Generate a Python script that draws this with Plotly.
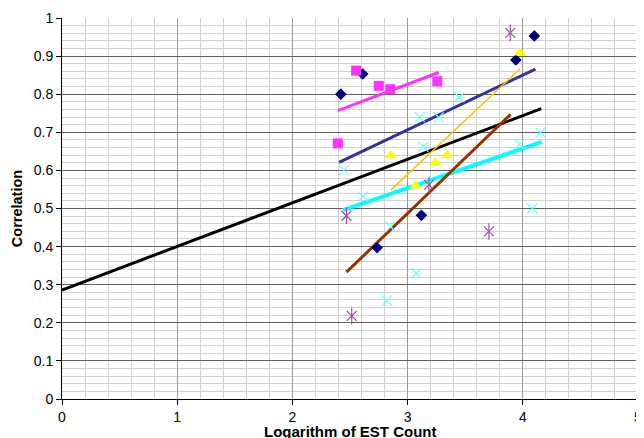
import plotly.graph_objects as go

# Scatter series (log EST count vs correlation)
navy_x = [2.42, 2.61, 2.735, 3.12, 3.94, 4.10]
navy_y = [0.800, 0.853, 0.397, 0.482, 0.890, 0.953]

pink_x = [2.394, 2.553, 2.75, 2.85, 3.258]
pink_y = [0.671, 0.862, 0.822, 0.813, 0.834]

yellow_x = [2.853, 3.07, 3.24, 3.342, 3.975]
yellow_y = [0.639, 0.560, 0.620, 0.640, 0.909]

cyan_x = [2.446, 2.613, 2.853, 2.82, 3.076, 3.105, 3.137, 3.27, 3.449, 3.972, 4.082, 4.154]
cyan_y = [0.600, 0.531, 0.452, 0.258, 0.330, 0.740, 0.662, 0.739, 0.792, 0.669, 0.500, 0.700]

purple_x = [2.469, 2.515, 3.186, 3.706, 3.891]
purple_y = [0.481, 0.218, 0.562, 0.440, 0.961]

# Trend lines (endpoints)
navy_line_x = [2.405, 4.11]
navy_line_y = [0.621, 0.866]
pink_line_x = [2.394, 3.27]
pink_line_y = [0.757, 0.857]
orange_line_x = [2.856, 3.975]
orange_line_y = [0.549, 0.866]
cyan_line_x = [2.44, 4.166]
cyan_line_y = [0.496, 0.675]
brown_line_x = [2.469, 3.894]
brown_line_y = [0.333, 0.747]
black_line_x = [0.0, 4.16]
black_line_y = [0.286, 0.762]

x_title = "Logarithm of EST Count"
y_title = "Correlation"

fig = go.Figure()

def line(x, y, color, width):
    fig.add_trace(go.Scatter(x=x, y=y, mode="lines",
                             line=dict(color=color, width=width), hoverinfo="skip"))

def pts(x, y, symbol, color, size, lw=1.2):
    fig.add_trace(go.Scatter(x=x, y=y, mode="markers",
                             marker=dict(symbol=symbol, color=color, size=size,
                                         line=dict(color=color, width=lw))))

line(black_line_x, black_line_y, "#000000", 3)
line(navy_line_x, navy_line_y, "#333399", 3)
line(pink_line_x, pink_line_y, "#FF33FF", 3)
line(cyan_line_x, cyan_line_y, "#00FFFF", 4)
line(brown_line_x, brown_line_y, "#993300", 3)
line(orange_line_x, orange_line_y, "#FFC000", 1.5)

pts(navy_x, navy_y, "diamond", "#000080", 9, 0)
pts(pink_x, pink_y, "square", "#FF33FF", 10, 0)
pts(yellow_x, yellow_y, "triangle-up", "#FFFF00", 11, 0)
pts(cyan_x, cyan_y, "x-thin-open", "#66FFFF", 10, 1.2)
pts(purple_x, purple_y, "x-thin-open", "#A050A0", 10, 1.2)
pts(purple_x, purple_y, "line-ns-open", "#A050A0", 12, 1.2)

font = "Liberation Sans, Arial, sans-serif"
# page body has an 8px margin, so the figure is sized/offset to compensate
fig.update_layout(
    width=636, height=430,
    margin=dict(l=54, r=6, t=10, b=39),
    paper_bgcolor="white", plot_bgcolor="white",
    showlegend=False,
    font=dict(family=font, size=14, color="black"),
    xaxis=dict(range=[0, 5], dtick=1, tick0=0, automargin=False,
               showgrid=True, gridcolor="#999999", gridwidth=1,
               minor=dict(dtick=0.2, showgrid=True, gridcolor="#D0D0D0", gridwidth=1),
               showline=True, linecolor="black", linewidth=1,
               ticks="outside", ticklen=5, tickcolor="black",
               zeroline=False),
    yaxis=dict(range=[0, 1], dtick=0.1, tick0=0, automargin=False,
               showgrid=True, gridcolor="#606060", gridwidth=1,
               minor=dict(dtick=0.02, showgrid=True, gridcolor="#D0D0D0", gridwidth=1),
               showline=True, linecolor="black", linewidth=1,
               ticks="outside", ticklen=5, tickcolor="black",
               zeroline=False,
               title=dict(text="<b>" + y_title + "</b>", font=dict(size=14.5), standoff=7)),
)
fig.add_annotation(text="<b>" + x_title + "</b>", xref="paper", yref="paper",
                   x=0.5, y=0, xanchor="center", yanchor="top", yshift=-23,
                   showarrow=False, font=dict(size=15, family=font, color="black"),
                   borderpad=0)

fig.write_html("out.html")
